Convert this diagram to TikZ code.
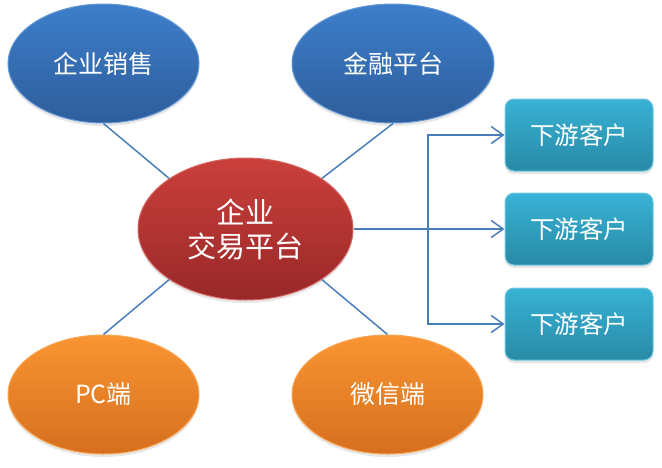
\documentclass[tikz,border=0pt]{standalone}
\usepackage{fontspec}
\setmainfont{Noto Sans CJK SC}
\usepackage{tikz}
\usetikzlibrary{arrows.meta,shapes,positioning,shadows}

\definecolor{blueTop}{HTML}{3D7FCB}
\definecolor{blueBot}{HTML}{2E5D9B}
\definecolor{redTop}{HTML}{CB403C}
\definecolor{redBot}{HTML}{982828}
\definecolor{orgTop}{HTML}{F99532}
\definecolor{orgBot}{HTML}{D56F1F}
\definecolor{cyanTop}{HTML}{38B2D5}
\definecolor{cyanBot}{HTML}{288AA6}
\definecolor{lineBlue}{HTML}{4A7EBB}

\tikzset{
  oval/.style={ellipse, inner sep=0pt, minimum width=191pt, minimum height=119pt,
    text=white, font=\fontsize{25}{28}\selectfont, line width=1pt,
    drop shadow={shadow xshift=0pt, shadow yshift=-3pt, opacity=.2}},
  blueoval/.style={oval, draw=blueTop!80!white, top color=blueTop, bottom color=blueBot},
  orgoval/.style={oval, draw=orgTop!85!white, top color=orgTop, bottom color=orgBot},
  redoval/.style={oval, draw=redTop!80!white, top color=redTop, bottom color=redBot,
    minimum width=215pt, minimum height=142pt, align=center,
    font=\fontsize{29}{34}\selectfont},
  client/.style={rectangle, rounded corners=9pt, minimum width=148pt, minimum height=72pt,
    draw=cyanTop!70!white, line width=1pt, top color=cyanTop, bottom color=cyanBot,
    text=white, font=\fontsize{24.5}{27}\selectfont,
    drop shadow={shadow xshift=0pt, shadow yshift=-3pt, opacity=.2}},
  link/.style={draw=lineBlue, line width=1.5pt}
}

\begin{document}
\begin{tikzpicture}[x=1pt, y=-1pt, >={Straight Barb[length=12pt,width=17pt]}]
  \useasboundingbox (0,0) rectangle (662,467);

  \coordinate (split) at (428,229);

  \node[blueoval] (sale) at (103.5,63.5) {企业销售};
  \node[blueoval, minimum width=202pt] (fin) at (393,63.5) {金融平台};
  \node[orgoval] (pc) at (103.5,394.5) {PC端};
  \node[orgoval] (wx) at (387.5,394.5) {微信端};
  \node[redoval] (main) at (245.5,229) {企业\\交易平台};

  \node[client] (c1) at (579,135) {下游客户};
  \node[client] (c2) at (579,229) {下游客户};
  \node[client] (c3) at (579,324) {下游客户};

  \path[link]
    (sale.south) edge (main.north west)
    (fin.south) edge (main.north east)
    (pc.north) edge (main.south west)
    (wx.north) edge (main.south east);

  % fan out to the clients
  \draw[link, ->] (main.east) -- (c2.west);
  \draw[link, ->] (split) |- (c1.west);
  \draw[link, ->] (split) |- (c3.west);
\end{tikzpicture}
\end{document}
